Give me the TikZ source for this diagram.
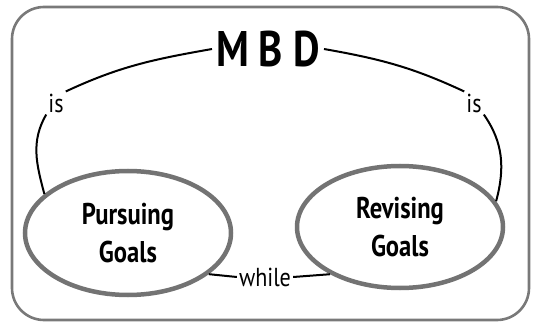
\documentclass[tikz,border=0pt]{standalone}
\usepackage{fontspec}
\setmainfont{PT Sans}
\newfontfamily\condbold[FakeStretch=0.82]{PT Sans Bold}
\newfontfamily\condreg[FakeStretch=0.85]{PT Sans}
\usetikzlibrary{shapes.geometric}
\begin{document}
\begin{tikzpicture}[x=1pt,y=1pt,
  frame/.style={draw=gray!95!black, line width=2.6pt, rounded corners=32pt},
  goal/.style={ellipse, draw=black!55, line width=4.5pt, inner sep=0pt,
    font=\condbold\fontsize{30}{38}\selectfont, align=center},
  lbl/.style={font=\condreg\fontsize{26}{30}\selectfont, inner sep=2pt},
  conn/.style={draw=black, line width=2pt}]
\useasboundingbox (0,0) rectangle (535,327);
\draw[frame] (12,7) rectangle (529,320);
\node[font=\condbold\fontsize{50}{52}\selectfont, inner sep=4pt] (mbd) at (268,278) {M\hspace{10pt}B\hspace{10pt}D};
\node[lbl] (isL) at (56,224) {is};
\node[lbl] (isR) at (474,224) {is};
\node[goal, minimum width=206pt, minimum height=124pt] (pg) at (128,94) {Pursuing\\Goals};
\node[goal, minimum width=206pt, minimum height=122pt] (rg) at (400,100) {Revising\\Goals};
\node[lbl] (wh) at (265,50) {while};
\draw[conn] (mbd.west) to[out=190,in=25] (isL.north east);
\draw[conn] (mbd.east) to[out=-10,in=155] (isR.north west);
\draw[conn] (isL.south west) to[out=240,in=105] (pg.155);
\draw[conn] (isR.south east) to[out=-55,in=75] (rg.15);
\draw[conn] (pg.333) -- (wh.west);
\draw[conn] (wh.east) -- (rg.214);
\end{tikzpicture}
\end{document}
